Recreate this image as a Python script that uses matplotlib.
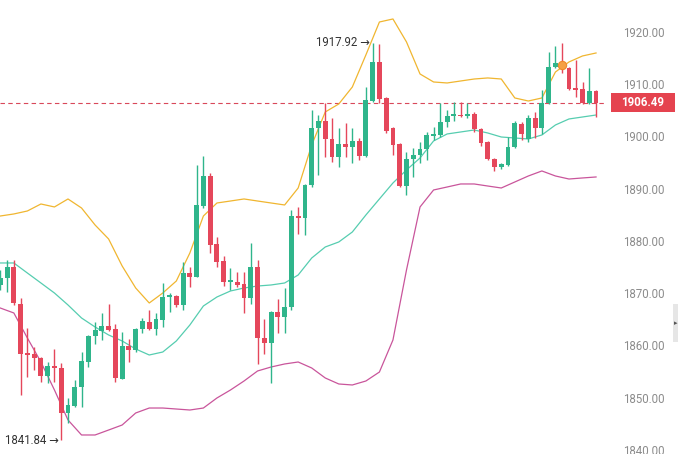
import numpy as np
import matplotlib
matplotlib.use('Agg')
import matplotlib.pyplot as plt
from matplotlib.patches import Rectangle
from matplotlib.transforms import blended_transform_factory

plt.rcParams['font.family'] = ['Roboto', 'DejaVu Sans']

# OHLC, one candle per entry
opens = [1871.58, 1872.92, 1875.02, 1867.94, 1858.56, 1858.37, 1857.60, 1854.16, 1856.07, 1855.69,
         1847.08, 1848.42, 1852.05, 1856.84, 1861.82, 1862.77, 1863.73, 1863.16, 1853.59, 1859.90,
         1859.13, 1863.16, 1864.49, 1863.16, 1864.88, 1869.28, 1869.47, 1867.75, 1873.87, 1873.11,
         1886.70, 1892.44, 1879.42, 1876.17, 1872.15, 1872.15, 1871.77, 1869.09, 1875.02, 1861.43,
         1860.47, 1866.41, 1865.45, 1867.37, 1884.78, 1884.40, 1890.72, 1901.63, 1902.97, 1899.52,
         1896.08, 1898.56, 1897.99, 1899.14, 1896.27, 1906.79, 1914.26, 1907.37, 1901.63, 1898.56,
         1890.52, 1895.69, 1896.46, 1897.61, 1900.09, 1900.29, 1902.77, 1903.92, 1904.11, 1903.92,
         1904.31, 1901.43, 1898.95, 1895.69, 1894.16, 1894.54, 1897.99, 1902.39, 1899.52, 1903.54,
         1901.63, 1906.41, 1913.30, 1914.07, 1913.11, 1909.28, 1909.09, 1906.41, 1908.71]
highs = [1874.45, 1876.36, 1876.36, 1869.09, 1863.35, 1859.71, 1857.79, 1856.84, 1859.33, 1856.65,
         1849.95, 1853.39, 1858.75, 1862.01, 1864.49, 1866.22, 1867.94, 1864.11, 1862.58, 1861.24,
         1863.35, 1865.26, 1866.79, 1866.22, 1871.96, 1870.04, 1869.66, 1875.98, 1875.02, 1894.54,
         1896.27, 1893.01, 1880.76, 1877.13, 1874.83, 1874.06, 1874.06, 1879.61, 1876.36, 1865.07,
         1866.60, 1868.90, 1871.00, 1885.93, 1886.51, 1890.91, 1905.07, 1904.11, 1906.41, 1903.54,
         1901.63, 1902.58, 1901.63, 1899.71, 1909.47, 1917.92, 1917.70, 1907.56, 1901.82, 1898.75,
         1897.03, 1897.80, 1898.95, 1900.86, 1901.82, 1906.41, 1905.07, 1906.60, 1906.60, 1906.41,
         1904.69, 1901.63, 1899.14, 1895.88, 1894.93, 1899.90, 1902.97, 1902.77, 1904.11, 1904.69,
         1908.90, 1916.17, 1917.32, 1917.89, 1913.30, 1914.64, 1910.43, 1913.11, 1908.90]
lows = [1870.62, 1870.24, 1867.75, 1850.52, 1853.97, 1855.31, 1853.01, 1852.82, 1853.01, 1841.84,
        1845.16, 1848.22, 1848.22, 1855.88, 1860.28, 1861.05, 1862.77, 1853.01, 1853.59, 1856.84,
        1858.75, 1862.39, 1862.96, 1862.01, 1863.54, 1866.41, 1867.37, 1866.79, 1871.19, 1873.11,
        1886.31, 1877.70, 1875.02, 1871.38, 1870.62, 1871.19, 1866.22, 1867.94, 1856.46, 1858.37,
        1852.82, 1862.39, 1862.39, 1866.79, 1881.34, 1881.15, 1890.33, 1892.63, 1896.08, 1895.12,
        1894.16, 1896.08, 1894.93, 1895.50, 1896.08, 1906.60, 1906.41, 1900.67, 1896.46, 1890.33,
        1888.80, 1892.25, 1894.93, 1895.50, 1899.33, 1899.90, 1901.82, 1902.97, 1903.73, 1903.54,
        1900.86, 1898.18, 1895.50, 1893.40, 1893.78, 1894.35, 1897.80, 1899.33, 1898.95, 1899.71,
        1900.48, 1906.22, 1913.11, 1912.15, 1908.90, 1907.56, 1906.22, 1906.22, 1903.73]
closes = [1872.92, 1875.02, 1868.13, 1858.37, 1858.18, 1857.60, 1854.16, 1856.07, 1855.69, 1847.08,
          1848.61, 1852.05, 1857.03, 1861.82, 1862.96, 1863.73, 1862.96, 1853.78, 1859.90, 1859.13,
          1863.16, 1864.69, 1863.16, 1865.07, 1869.28, 1869.66, 1867.75, 1873.87, 1873.11, 1886.89,
          1892.44, 1879.23, 1875.98, 1872.15, 1872.34, 1871.58, 1869.09, 1875.02, 1861.43, 1860.47,
          1866.41, 1865.45, 1867.37, 1884.78, 1884.40, 1890.72, 1901.63, 1902.97, 1899.52, 1896.08,
          1898.56, 1897.99, 1899.14, 1896.27, 1906.98, 1914.26, 1907.18, 1901.05, 1898.37, 1890.52,
          1895.69, 1896.46, 1897.61, 1900.29, 1900.48, 1902.77, 1903.92, 1904.11, 1903.83, 1904.31,
          1901.43, 1898.75, 1895.69, 1894.16, 1894.74, 1897.99, 1902.58, 1900.48, 1903.54, 1901.63,
          1906.41, 1913.30, 1914.07, 1913.11, 1909.09, 1908.90, 1906.41, 1908.71, 1906.49]

# Bollinger band values read every second candle
band_idx = list(range(0, 89, 2))
upper = [1884.78, 1885.17, 1885.74, 1887.08, 1886.51, 1888.04, 1886.31, 1883.06, 1880.38, 1875.21,
         1871.00, 1868.13, 1870.04, 1872.34, 1877.70, 1884.78, 1887.27, 1887.65, 1888.04, 1887.65,
         1887.27, 1886.89, 1890.14, 1898.37, 1904.69, 1906.22, 1909.47, 1915.60, 1921.91, 1922.49,
         1918.09, 1911.96, 1910.43, 1910.24, 1910.62, 1911.00, 1911.20, 1911.00, 1907.37, 1906.79,
         1907.37, 1912.34, 1914.26, 1915.41, 1915.98]
middle = [1875.79, 1875.79, 1873.87, 1871.96, 1870.04, 1867.75, 1865.26, 1863.54, 1862.01, 1860.86,
          1859.33, 1858.18, 1858.75, 1860.86, 1863.92, 1867.56, 1869.28, 1870.43, 1871.00, 1871.38,
          1871.58, 1871.96, 1873.49, 1876.74, 1878.85, 1879.81, 1881.72, 1884.97, 1888.04, 1891.10,
          1893.59, 1895.88, 1899.14, 1900.48, 1900.86, 1901.24, 1900.67, 1899.90, 1899.71, 1899.52,
          1900.29, 1902.20, 1903.35, 1903.73, 1904.11]
lower = [1867.17, 1866.22, 1861.43, 1856.84, 1851.48, 1845.74, 1842.87, 1842.87, 1843.82, 1844.78,
         1847.08, 1848.03, 1848.03, 1847.84, 1847.65, 1848.03, 1849.95, 1851.48, 1853.20, 1855.12,
         1855.88, 1856.46, 1856.84, 1855.69, 1853.78, 1852.63, 1852.44, 1853.20, 1854.92, 1861.05,
         1874.45, 1886.51, 1889.76, 1890.33, 1890.91, 1890.91, 1890.52, 1890.14, 1891.29, 1892.44,
         1893.40, 1892.44, 1891.86, 1892.06, 1892.25]

last_price = 1906.49
max_idx, max_val = 55, 1917.92
min_idx, min_val = 9, 1841.84
marker_idx, marker_val = 83, 1913.7
yticks = [1840, 1850, 1860, 1870, 1880, 1890, 1900, 1910, 1920]

GREEN = '#2fb58b'
RED = '#e5475b'

fig = plt.figure(figsize=(6.78, 4.54), dpi=100, facecolor='white')
ax = fig.add_axes([0, 0, 606 / 678, 1])

x = np.arange(len(opens))
o = np.array(opens); c = np.array(closes)
h = np.array(highs); l = np.array(lows)
up = c >= o
cols = np.where(up, GREEN, RED)

ax.plot(band_idx, upper, color='#f0b630', lw=0.9, zorder=1)
ax.plot(band_idx, middle, color='#56cdb0', lw=0.9, zorder=1)
ax.plot(band_idx, lower, color='#c9559b', lw=0.9, zorder=1)

ax.vlines(x, l, h, colors=cols, lw=1.0, zorder=2)
bottoms = np.minimum(o, c)
heights = np.maximum(np.abs(c - o), 0.35)
ax.bar(x, heights, bottom=bottoms, width=0.72, color=cols, lw=0, zorder=3)

ax.plot([marker_idx], [marker_val], 'o', ms=6, color='#f5a045', mec='#f08a2a', mew=0.8, zorder=4)

ax.axhline(last_price, color='#d9485a', lw=0.8, ls=(0, (4, 3)), zorder=0)

ax.text(max_idx - 0.35, max_val, '1917.92 →', ha='right', va='center', fontsize=8.3, color='#333333')
ax.text(min_idx - 0.35, min_val, '1841.84 →', ha='right', va='center', fontsize=8.3, color='#333333')

ax.set_xlim(-0.044, 89.47)
ax.set_ylim(1839.23, 1926.12)
ax.set_yticks(yticks)
ax.set_yticklabels(['%.2f' % v for v in yticks])
ax.yaxis.tick_right()
ax.tick_params(axis='y', length=0, pad=12, labelsize=8.3, labelcolor='#8c8c8c')
ax.set_xticks([])
for s in ax.spines.values():
    s.set_visible(False)

tr = blended_transform_factory(fig.transFigure, ax.transData)
ax.add_patch(Rectangle((611 / 678, last_price - 1.82), 64 / 678, 3.64, transform=tr,
                       facecolor='#e5434f', edgecolor='none', clip_on=False, zorder=5))
ax.text(643 / 678, last_price, '%.2f' % last_price, transform=tr, ha='center', va='center',
        fontsize=8.3, fontweight='bold', color='white', zorder=6, clip_on=False)

fig.patches.append(Rectangle((673 / 678, 1 - 342 / 454), 5 / 678, 38 / 454,
                             transform=fig.transFigure, facecolor='#e6e6e6', edgecolor='none'))
fig.text(675.5 / 678, 1 - 323 / 454, '▸', ha='center', va='center', fontsize=5, color='#555555',
         family=['DejaVu Sans'])

fig.savefig('out.png', dpi=100, facecolor='white')
